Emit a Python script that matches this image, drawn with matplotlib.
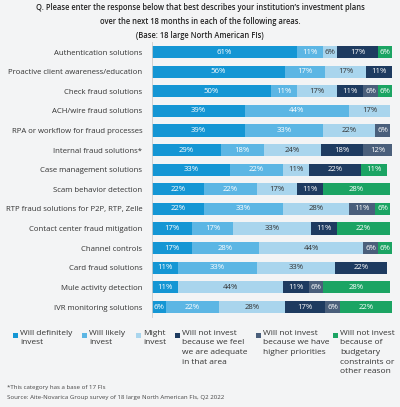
import matplotlib.pyplot as plt
from matplotlib.patches import Rectangle
import numpy as np

categories = [
    "Authentication solutions",
    "Proactive client awareness/education",
    "Check fraud solutions",
    "ACH/wire fraud solutions",
    "RPA or workflow for fraud processes",
    "Internal fraud solutions*",
    "Case management solutions",
    "Scam behavior detection",
    "RTP fraud solutions for P2P, RTP, Zelle",
    "Contact center fraud mitigation",
    "Channel controls",
    "Card fraud solutions",
    "Mule activity detection",
    "IVR monitoring solutions",
]

definitely = [61, 56, 50, 39, 39, 29, 33, 22, 22, 17, 17, 11, 11, 6]
likely = [11, 17, 11, 44, 33, 18, 22, 22, 33, 17, 28, 33, 0, 22]
might = [6, 17, 17, 17, 22, 24, 11, 17, 28, 33, 44, 33, 44, 28]
adequate = [17, 11, 11, 0, 0, 18, 22, 11, 0, 11, 0, 22, 11, 17]
priorities = [0, 0, 6, 0, 6, 12, 0, 0, 11, 0, 6, 0, 6, 6]
budget = [6, 0, 6, 0, 0, 0, 11, 28, 6, 22, 6, 0, 28, 22]

series_names = [
    "Will definitely\ninvest",
    "Will likely\ninvest",
    "Might\ninvest",
    "Will not invest\nbecause we feel\nwe are adequate\nin that area",
    "Will not invest\nbecause we have\nhigher priorities",
    "Will not invest\nbecause of\nbudgetary\nconstraints or\nother reason",
]
series = [definitely, likely, might, adequate, priorities, budget]
colors = ["#1496d4", "#5cb6e4", "#a9d5ed", "#1e3b60", "#4a5f7b", "#1ba463"]
text_colors = ["white", "white", "#333333", "white", "white", "white"]

bg = "#f3f4f5"
fig = plt.figure(figsize=(4, 4.07), dpi=100, facecolor=bg)
plt.rcParams['font.family'] = ['Open Sans', 'DejaVu Sans']

ax = fig.add_axes([0.38, 0.2216, 0.6, 0.6747])
ax.set_facecolor(bg)

y = np.arange(len(categories))
left = np.zeros(len(categories))
for vals, col, tcol in zip(series, colors, text_colors):
    vals = np.array(vals, dtype=float)
    ax.barh(y, vals, left=left, height=0.62, color=col, edgecolor="none")
    for yi, (l, v) in enumerate(zip(left, vals)):
        if v > 0:
            ax.text(l + v / 2, yi, f"{int(v)}%", ha="center", va="center",
                    fontsize=5.6, color=tcol)
    left += vals

ax.set_xlim(0, 101)
ax.set_ylim(len(categories) - 0.5, -0.5)
ax.set_yticks(y)
ax.set_yticklabels(categories, fontsize=5.6, color="#333333")
ax.set_xticks([])
ax.tick_params(axis="y", length=0, pad=7)
for side in ["top", "right", "bottom"]:
    ax.spines[side].set_visible(False)
ax.spines["left"].set_color("#cccccc")
ax.spines["left"].set_linewidth(0.6)

# title
title_lines = [
    "Q. Please enter the response below that best describes your institution\u2019s investment plans",
    "over the next 18 months in each of the following areas.",
    "(Base: 18 large North American FIs)",
]
for i, line in enumerate(title_lines):
    fig.text(0.5, 1 - (8 + 13.5 * i) / 407, line, ha="center", va="center",
             fontsize=5.45, fontweight="semibold", color="#222222")

# legend
square_x = [13, 82, 136, 175, 256, 333]
for sx, name, col in zip(square_x, series_names, colors):
    fig.add_artist(Rectangle((sx / 400, 1 - 338 / 407), 5 / 400, 5 / 407,
                             transform=fig.transFigure, color=col, lw=0))
    fig.text((sx + 7) / 400, 1 - 330 / 407, name, ha="left", va="top",
             fontsize=6.0, color="#333333", linespacing=1.5)

fig.text(7 / 400, 1 - 388 / 407, "*This category has a base of 17 FIs",
         ha="left", va="center", fontsize=4.4, color="#444444")
fig.text(7 / 400, 1 - 398 / 407,
         "Source: Aite-Novarica Group survey of 18 large North American FIs, Q2 2022",
         ha="left", va="center", fontsize=4.4, color="#444444")

fig.savefig("out.png", dpi=100, facecolor=bg)
